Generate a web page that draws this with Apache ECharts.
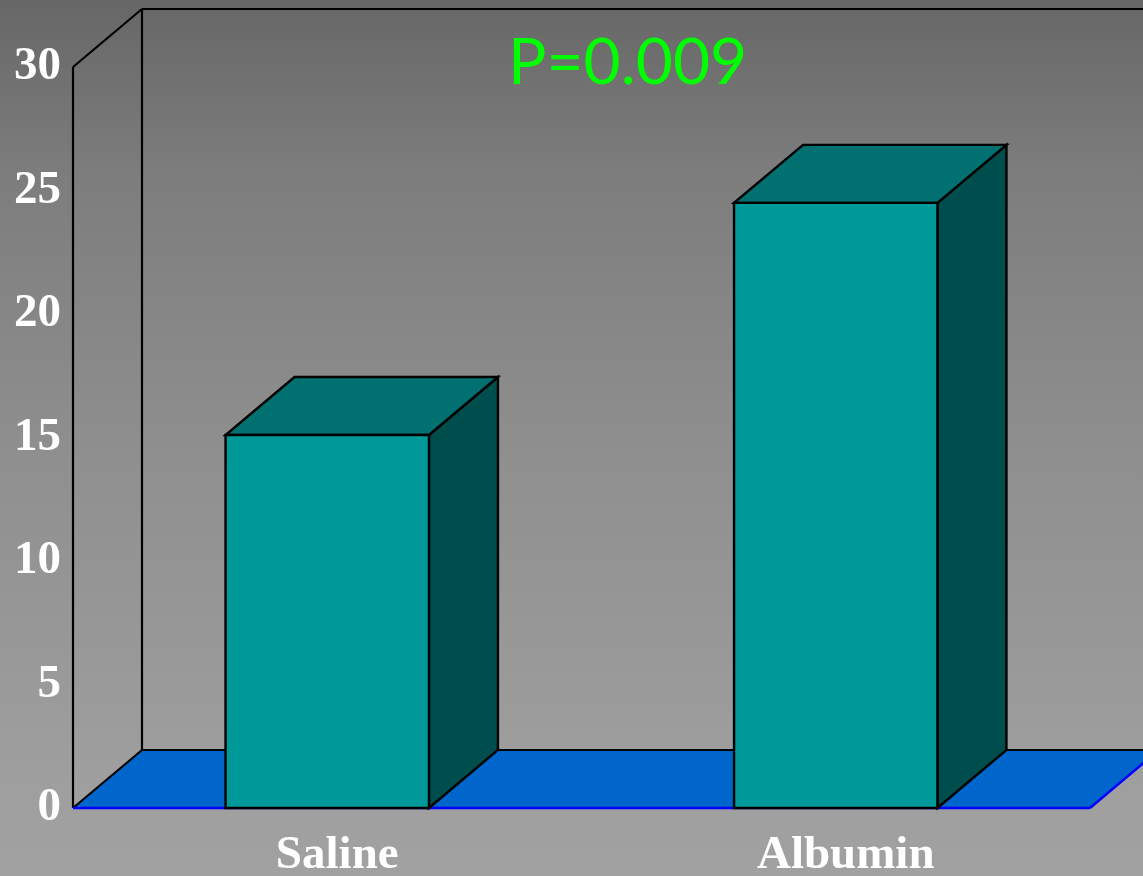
<!DOCTYPE html>
<html>
<head>
<meta charset="utf-8">
<title>Saline vs Albumin</title>
<script src="https://cdn.jsdelivr.net/npm/echarts@6/dist/echarts.min.js"></script>
<style>
  html, body { margin: 0; padding: 0; }
  #chart { width: 1143px; height: 876px; }
</style>
</head>
<body>
<div id="chart"></div>
<script>
// Group means
const categories = ['Saline', 'Albumin'];
const values = [15.1, 24.5];
const pLabel = 'P=0.009';

// Axis range
const yMin = 0;
const yMax = 30;
const yStep = 5;

// Perspective offset for the pseudo-3D depth
const DEPTH_DX = 69;
const DEPTH_DY = -58;

const FRONT = '#009999';
const TOP = '#007070';
const SIDE = '#004d4d';
const FLOOR = '#0066cc';
const EDGE = '#000000';

const chart = echarts.init(document.getElementById('chart'));

function line(x1, y1, x2, y2, color, w) {
  return {
    type: 'line',
    shape: { x1: x1, y1: y1, x2: x2, y2: y2 },
    style: { stroke: color, lineWidth: w }
  };
}

// Walls and floor of the box
function renderFrame(params, api) {
  const cs = params.coordSys;
  const x0 = cs.x, x1 = cs.x + cs.width;
  const yT = cs.y, yB = cs.y + cs.height;
  const dx = DEPTH_DX, dy = DEPTH_DY;
  return {
    type: 'group',
    children: [
      // back wall
      line(x0 + dx, yT + dy, x1 + dx + 200, yT + dy, EDGE, 2.2),
      line(x0 + dx, yT + dy, x0 + dx, yB + dy, EDGE, 2.2),
      // left wall
      line(x0, yT, x0, yB, EDGE, 2.2),
      line(x0, yT, x0 + dx, yT + dy, EDGE, 2.2),
      // floor
      {
        type: 'polygon',
        shape: { points: [[x0, yB], [x0 + dx, yB + dy], [x1 + dx, yB + dy], [x1, yB]] },
        style: { fill: FLOOR }
      },
      line(x0 + dx, yB + dy, x1 + dx, yB + dy, EDGE, 2.2),
      line(x0, yB, x0 + dx, yB + dy, EDGE, 2.2),
      line(x0, yB, x1, yB, '#0000ff', 2.5),
      line(x1, yB, x1 + dx, yB + dy, '#0000ff', 2.5)
    ]
  };
}

// One box-shaped bar
function renderBar(params, api) {
  const idx = api.value(0);
  const top = api.coord([idx, api.value(1)]);
  const base = api.coord([idx, 0]);
  const w = api.size([1, 0])[0] * 0.4;
  const xl = top[0] - w / 2, xr = top[0] + w / 2;
  const yt = top[1], yb = base[1];
  const dx = DEPTH_DX, dy = DEPTH_DY;
  const stroke = { stroke: EDGE, lineWidth: 2.4, lineJoin: 'miter' };
  return {
    type: 'group',
    children: [
      {
        type: 'polygon',
        shape: { points: [[xr, yb], [xr + dx, yb + dy], [xr + dx, yt + dy], [xr, yt]] },
        style: Object.assign({ fill: SIDE }, stroke)
      },
      {
        type: 'polygon',
        shape: { points: [[xl, yt], [xr, yt], [xr + dx, yt + dy], [xl + dx, yt + dy]] },
        style: Object.assign({ fill: TOP }, stroke)
      },
      {
        type: 'rect',
        shape: { x: xl, y: yt, width: w, height: yb - yt },
        style: Object.assign({ fill: FRONT }, stroke)
      }
    ]
  };
}

const option = {
  backgroundColor: {
    type: 'linear', x: 0, y: 0, x2: 0, y2: 1,
    colorStops: [
      { offset: 0, color: '#676767' },
      { offset: 0.2, color: '#7d7d7d' },
      { offset: 0.5, color: '#8e8e8e' },
      { offset: 0.9, color: '#9f9f9f' },
      { offset: 1, color: '#a1a1a1' }
    ]
  },
  animation: false,
  title: {
    text: pLabel,
    left: 503,
    top: 26,
    textStyle: {
      color: '#00ff00',
      fontSize: 64,
      fontWeight: 'normal',
      fontFamily: '"Comic Sans MS", Lato, "Open Sans", sans-serif'
    }
  },
  grid: {
    left: 73, right: 53, top: 67, bottom: 68,
    containLabel: false,
    outerBoundsMode: 'none'
  },
  xAxis: {
    type: 'category',
    data: categories,
    boundaryGap: true,
    axisLine: { show: false },
    axisTick: { show: false },
    splitLine: { show: false },
    axisLabel: {
      color: '#ffffff',
      fontSize: 47,
      fontWeight: 'bold',
      fontFamily: '"Liberation Serif", "Times New Roman", serif',
      margin: 24,
      padding: [0, 0, 0, 20]
    }
  },
  yAxis: {
    type: 'value',
    min: yMin,
    max: yMax,
    interval: yStep,
    axisLine: { show: false },
    axisTick: { show: false },
    splitLine: { show: false },
    axisLabel: {
      color: '#ffffff',
      fontSize: 47,
      fontWeight: 'bold',
      fontFamily: '"Liberation Serif", "Times New Roman", serif',
      margin: 12,
      padding: [7, 0, 0, 0]
    }
  },
  series: [
    {
      type: 'custom',
      renderItem: renderFrame,
      data: [[0, 0]],
      z: 1,
      silent: true
    },
    {
      type: 'custom',
      renderItem: renderBar,
      data: values.map(function (v, i) { return [i, v]; }),
      z: 2
    }
  ]
};

chart.setOption(option);
</script>
</body>
</html>
